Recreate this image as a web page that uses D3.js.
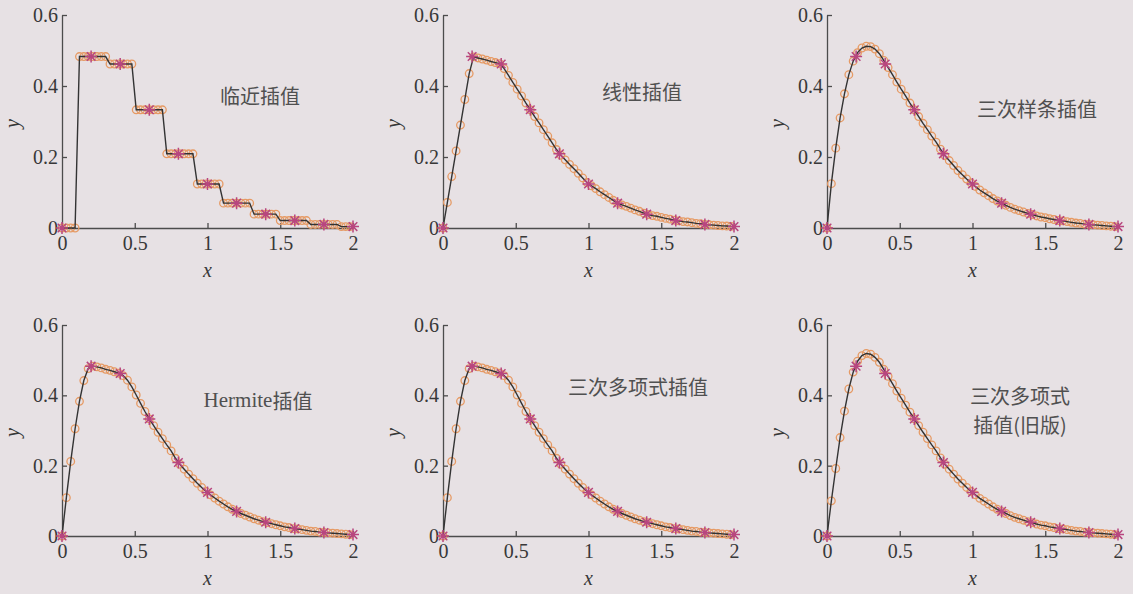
<!DOCTYPE html>
<html>
<head>
<meta charset="utf-8">
<script src="https://cdn.jsdelivr.net/npm/d3@7"></script>
<style>
  html, body { margin: 0; padding: 0; background: #e7e1e4; }
  svg { display: block; }
</style>
</head>
<body>
<svg id="chart" width="1133" height="594"></svg>
<script>
// Sample data: y measured at x = 0, 0.2, ..., 2
const knotX = [0, 0.2, 0.4, 0.6, 0.8, 1.0, 1.2, 1.4, 1.6, 1.8, 2.0];
const knotY = [0, 0.483, 0.462, 0.333, 0.209, 0.124, 0.070, 0.039, 0.021, 0.010, 0.004];

// Dense evaluation points of the interpolants
const sampleX = [0, 0.03, 0.06, 0.09, 0.12, 0.15, 0.18, 0.21, 0.24, 0.27, 0.30, 0.33, 0.36, 0.39,
  0.42, 0.45, 0.48, 0.51, 0.54, 0.57, 0.60, 0.63, 0.66, 0.69, 0.72, 0.75, 0.78, 0.81, 0.84, 0.87,
  0.90, 0.93, 0.96, 0.99, 1.02, 1.05, 1.08, 1.11, 1.14, 1.17, 1.20, 1.23, 1.26, 1.29, 1.32, 1.35,
  1.38, 1.41, 1.44, 1.47, 1.50, 1.53, 1.56, 1.59, 1.62, 1.65, 1.68, 1.71, 1.74, 1.77, 1.80, 1.83,
  1.86, 1.89, 1.92, 1.95, 1.98];

const nearestY = [0, 0, 0, 0,
  0.483, 0.483, 0.483, 0.483, 0.483, 0.483, 0.483,
  0.462, 0.462, 0.462, 0.462, 0.462, 0.462,
  0.333, 0.333, 0.333, 0.333, 0.333, 0.333, 0.333,
  0.209, 0.209, 0.209, 0.209, 0.209, 0.209, 0.209,
  0.124, 0.124, 0.124, 0.124, 0.124, 0.124,
  0.070, 0.070, 0.070, 0.070, 0.070, 0.070, 0.070,
  0.039, 0.039, 0.039, 0.039, 0.039, 0.039,
  0.021, 0.021, 0.021, 0.021, 0.021, 0.021, 0.021,
  0.010, 0.010, 0.010, 0.010, 0.010, 0.010, 0.010,
  0.004, 0.004, 0.004];

const linearY = [0, 0.072, 0.145, 0.217, 0.290, 0.362, 0.435, 0.482, 0.479, 0.476, 0.473, 0.469,
  0.466, 0.463, 0.449, 0.430, 0.410, 0.391, 0.372, 0.352, 0.333, 0.314, 0.296, 0.277, 0.259, 0.240,
  0.221, 0.205, 0.192, 0.179, 0.167, 0.154, 0.141, 0.128, 0.119, 0.111, 0.102, 0.094, 0.086, 0.078,
  0.070, 0.065, 0.061, 0.056, 0.051, 0.047, 0.042, 0.038, 0.035, 0.033, 0.030, 0.027, 0.025, 0.022,
  0.020, 0.018, 0.017, 0.015, 0.013, 0.012, 0.010, 0.009, 0.008, 0.007, 0.006, 0.0055, 0.0045];

const splineY = [0, 0.125, 0.225, 0.310, 0.378, 0.432, 0.470, 0.494, 0.507, 0.512, 0.511, 0.504,
  0.491, 0.472, 0.452, 0.432, 0.411, 0.391, 0.372, 0.352, 0.333, 0.314, 0.295, 0.277, 0.259, 0.242,
  0.222, 0.204, 0.190, 0.176, 0.162, 0.150, 0.138, 0.127, 0.117, 0.107, 0.099, 0.091, 0.083, 0.076,
  0.070, 0.064, 0.058, 0.053, 0.049, 0.045, 0.041, 0.038, 0.034, 0.031, 0.029, 0.026, 0.024, 0.021,
  0.020, 0.018, 0.016, 0.014, 0.013, 0.011, 0.010, 0.009, 0.008, 0.007, 0.006, 0.005, 0.004];

const hermiteY = [0, 0.109, 0.212, 0.305, 0.383, 0.442, 0.476, 0.483, 0.481, 0.478, 0.474, 0.471,
  0.467, 0.463, 0.456, 0.443, 0.424, 0.401, 0.377, 0.354, 0.333, 0.314, 0.295, 0.277, 0.259, 0.242,
  0.221, 0.204, 0.190, 0.176, 0.163, 0.150, 0.138, 0.127, 0.117, 0.108, 0.099, 0.091, 0.083, 0.076,
  0.070, 0.064, 0.059, 0.054, 0.049, 0.045, 0.041, 0.038, 0.035, 0.032, 0.029, 0.026, 0.024, 0.021,
  0.020, 0.018, 0.016, 0.014, 0.013, 0.011, 0.010, 0.009, 0.008, 0.007, 0.006, 0.005, 0.004];

const cubicY = [0, 0.109, 0.212, 0.305, 0.383, 0.442, 0.476, 0.483, 0.481, 0.478, 0.474, 0.471,
  0.467, 0.463, 0.456, 0.443, 0.424, 0.401, 0.377, 0.354, 0.333, 0.314, 0.295, 0.277, 0.259, 0.242,
  0.221, 0.204, 0.190, 0.176, 0.163, 0.150, 0.138, 0.127, 0.117, 0.108, 0.099, 0.091, 0.083, 0.076,
  0.070, 0.064, 0.059, 0.054, 0.049, 0.045, 0.041, 0.038, 0.035, 0.032, 0.029, 0.026, 0.024, 0.021,
  0.020, 0.018, 0.016, 0.014, 0.013, 0.011, 0.010, 0.009, 0.008, 0.007, 0.006, 0.005, 0.004];

const cubicOldY = [0, 0.100, 0.192, 0.280, 0.355, 0.418, 0.466, 0.497, 0.513, 0.519, 0.517, 0.508,
  0.494, 0.474, 0.454, 0.433, 0.412, 0.392, 0.372, 0.352, 0.333, 0.314, 0.295, 0.277, 0.259, 0.242,
  0.222, 0.204, 0.190, 0.176, 0.162, 0.150, 0.138, 0.127, 0.117, 0.107, 0.099, 0.091, 0.083, 0.076,
  0.070, 0.064, 0.058, 0.053, 0.049, 0.045, 0.041, 0.038, 0.034, 0.031, 0.029, 0.026, 0.024, 0.021,
  0.020, 0.018, 0.016, 0.014, 0.013, 0.011, 0.010, 0.009, 0.008, 0.007, 0.006, 0.005, 0.004];

const xTicks = [0, 0.5, 1, 1.5, 2];
const xTickLabels = ["0", "0.5", "1", "1.5", "2"];
const yTicks = [0, 0.2, 0.4, 0.6];
const yTickLabels = ["0", "0.2", "0.4", "0.6"];

const panelTitles = [
  ["临近插值"],
  ["线性插值"],
  ["三次样条插值"],
  ["Hermite插值"],
  ["三次多项式插值"],
  ["三次多项式", "插值(旧版)"]
];
const panelSeries = [nearestY, linearY, splineY, hermiteY, cubicY, cubicOldY];

// ---- layout ----
const colLeft = [62, 443, 827];
const plotW = 291;
const rowTop = [15, 325];
const rowBottom = [228, 536];
// title anchor (centre of first line) for each panel
const titlePos = [[260, 95], [642, 91], [1037, 108], [258, 400], [638, 386], [1020, 395]];
const titleLineGap = 29;

const ink = "#333333";
const axisInk = "#4c4c4c";
const circleInk = "#e69a64";
const starInk = "#b8467f";

const svg = d3.select("#chart");
svg.append("rect").attr("width", 1133).attr("height", 594).attr("fill", "#e7e1e4");

const starPath = "M-6,0H6M0,-6V6M-4.3,-4.3L4.3,4.3M-4.3,4.3L4.3,-4.3";

panelSeries.forEach((series, p) => {
  const col = p % 3, row = Math.floor(p / 3);
  const left = colLeft[col];
  const x = d3.scaleLinear().domain([0, 2]).range([left, left + plotW]);
  const y = d3.scaleLinear().domain([0, 0.6]).range([rowBottom[row], rowTop[row]]);
  const g = svg.append("g");

  // axes: inward ticks, left and bottom lines only
  const xAxis = d3.axisBottom(x).tickValues(xTicks)
    .tickFormat((d, i) => xTickLabels[i]).tickSizeInner(-5).tickSizeOuter(0).tickPadding(8);
  const yAxis = d3.axisLeft(y).tickValues(yTicks)
    .tickFormat((d, i) => yTickLabels[i]).tickSizeInner(-5).tickSizeOuter(0).tickPadding(4);

  const gx = g.append("g").attr("transform", `translate(0,${rowBottom[row]})`).call(xAxis);
  const gy = g.append("g").attr("transform", `translate(${left},0)`).call(yAxis);
  [gx, gy].forEach(a => {
    a.selectAll("path, line").attr("stroke", axisInk).attr("stroke-width", 1.3);
    a.selectAll("text").attr("fill", "#383838").style("font-family", "'Liberation Serif', serif")
      .style("font-size", "20px");
  });

  // axis labels
  g.append("text").attr("x", left + plotW / 2).attr("y", rowBottom[row] + 49)
    .attr("text-anchor", "middle").attr("fill", "#383838")
    .style("font-family", "'Liberation Serif', serif").style("font-style", "italic")
    .style("font-size", "20px").text("x");
  g.append("text")
    .attr("transform", `translate(${left - 43},${(rowTop[row] + rowBottom[row]) / 2 + 2}) rotate(-90)`)
    .attr("text-anchor", "middle").attr("fill", "#383838")
    .style("font-family", "'Liberation Serif', serif").style("font-style", "italic")
    .style("font-size", "20px").text("y");

  const pts = sampleX.map((v, i) => [v, series[i]]);

  // interpolated samples
  g.append("g").selectAll("circle").data(pts).join("circle")
    .attr("cx", d => x(d[0])).attr("cy", d => y(d[1])).attr("r", 3.8)
    .attr("fill", "none").attr("stroke", circleInk).attr("stroke-width", 1.3);

  // interpolated curve
  g.append("path").datum(pts)
    .attr("d", d3.line().x(d => x(d[0])).y(d => y(d[1])))
    .attr("fill", "none").attr("stroke", ink).attr("stroke-width", 1.4);

  // original samples
  g.append("g").selectAll("path").data(knotX.map((v, i) => [v, knotY[i]])).join("path")
    .attr("transform", d => `translate(${x(d[0])},${y(d[1])})`)
    .attr("d", starPath).attr("fill", "none").attr("stroke", starInk).attr("stroke-width", 1.5);

  // method title
  const lines = panelTitles[p];
  const [tx, ty] = titlePos[p];
  lines.forEach((line, li) => {
    const t = g.append("text").attr("x", tx).attr("y", ty + li * titleLineGap)
      .attr("text-anchor", "middle").attr("dominant-baseline", "central")
      .attr("fill", "#505050").style("font-family", "'Noto Sans CJK SC', sans-serif")
      .style("font-size", "20px");
    const m = line.match(/^([A-Za-z]+)(.*)$/);
    if (m) {
      t.append("tspan").style("font-family", "'Liberation Serif', serif").style("font-size", "21px").text(m[1]);
      t.append("tspan").text(m[2]);
    } else {
      t.text(line);
    }
  });
});
</script>
</body>
</html>
